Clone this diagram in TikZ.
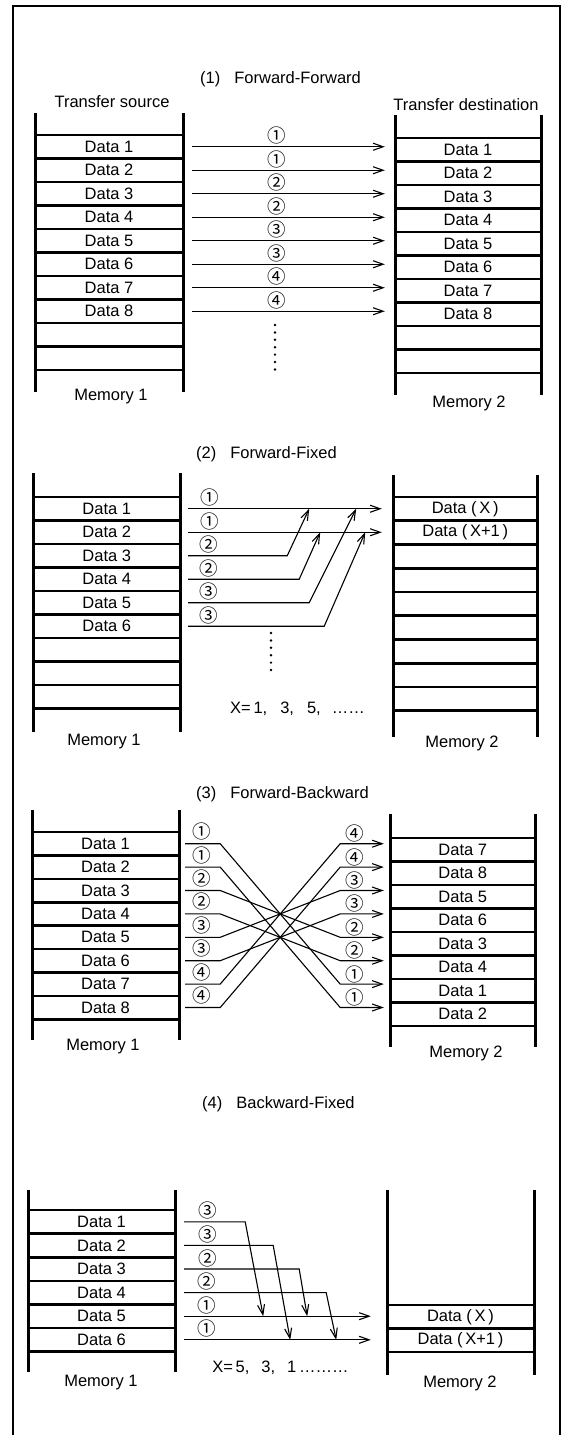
\documentclass[tikz,border=0pt]{standalone}
\usepackage{fontspec}
\setmainfont{Liberation Sans}
\newfontfamily\cjk{Noto Sans CJK JP}
\usetikzlibrary{arrows.meta,positioning,calc}

\begin{document}
\begin{tikzpicture}[
  x=1pt, y=-1pt,
  >={Straight Barb[length=10pt,width=7pt]},
  font=\fontsize{16.5pt}{19pt}\selectfont,
  frame/.style ={draw=black, line width=1.8pt},
  rail/.style  ={draw=black, line width=3pt},
  rung/.style  ={draw=black, line width=2.6pt},
  cell/.style  ={inner sep=0pt, minimum height=23pt, align=center},
  flow/.style  ={->, draw=black, line width=1.1pt},
  num/.style   ={inner sep=0pt, font=\cjk\fontsize{18.5pt}{18.5pt}\selectfont},
  title/.style ={inner sep=0pt, anchor=west},
  memo/.style  ={inner sep=0pt},
  dots/.style  ={draw=black, line width=2.7pt, line cap=round, dash pattern=on 0pt off 7.4pt},
]
\useasboundingbox (0,0) rectangle (568,1435);

% ---- the page frame, open at the foot as in the scan -----------------------------
\draw[frame] (13,1436) -- (13,6) -- (560,6) -- (560,1436);

% ============================================================ (1) FORWARD-FORWARD
\node[title] (ffhead) at (200,79) {(1)\hspace{14pt}Forward-Forward};
\node[memo] (ffsrc) at (112,102) {Transfer source};
\node[memo] (ffdst) at (466,105) {Transfer destination};

% memory 1: eleven rungs, eight filled rows
\draw[rail] (35,113) -- (35,392);
\draw[rail] (183,113) -- (183,392);
\foreach \k in {0,...,10} \draw[rung] (35,{135+23.5*\k}) -- (183,{135+23.5*\k});
\foreach \i in {1,...,8}
  \node[cell, minimum width=148pt] (ffs\i) at (109,{146.75+23.5*(\i-1)}) {Data \i};
\node[memo] (ffm1) at (111,397) {Memory 1};

% memory 2 sits three rows of scan lower than memory 1
\draw[rail] (395,115) -- (395,395);
\draw[rail] (541,115) -- (541,395);
\foreach \k in {0,...,10} \draw[rung] (395,{138+23.5*\k}) -- (541,{138+23.5*\k});
\foreach \i in {1,...,8}
  \node[cell, minimum width=146pt] (ffd\i) at (468,{149.75+23.5*(\i-1)}) {Data \i};
\node[memo] (ffm2) at (469,403) {Memory 2};

\foreach \i/\c in {1/①,2/①,3/②,4/②,5/③,6/③,7/④,8/④}
  \draw[flow, shorten <=9pt, shorten >=10pt] (ffs\i.east)
    -- node[num, pos=.44, yshift=11pt] {\c} (ffs\i.east -| ffd\i.west);
\draw[dots] (275,325) -- (275,370);

% ============================================================ (2) FORWARD-FIXED
\node[title] (fxhead) at (196,454) {(2)\hspace{14pt}Forward-Fixed};

\draw[rail] (33.5,473) -- (33.5,732);
\draw[rail] (180,473) -- (180,732);
\foreach \k in {0,...,9} \draw[rung] (33.5,{497+23.5*\k}) -- (180,{497+23.5*\k});
\foreach \i in {1,...,6}
  \node[cell, minimum width=146.5pt] (fxs\i) at (106.75,{508.75+23.5*(\i-1)}) {Data \i};
\node[memo] (fxm1) at (104,742) {Memory 1};

\draw[rail] (393,475) -- (393,737);
\draw[rail] (537.5,475) -- (537.5,737);
\foreach \k in {0,...,9} \draw[rung] (393,{497+23.75*\k}) -- (537.5,{497+23.75*\k});
\node[cell, minimum width=144.5pt] (fxd1) at (465.25,508.9) {Data\ (\,X\,)};
\node[cell, minimum width=144.5pt] (fxd2) at (465.25,532.6) {Data\ (\,X+1\,)};
\node[memo] (fxm2) at (462,743) {Memory 2};

% two straight arrows; the later rows join them from below
\draw[flow, shorten <=8pt, shorten >=11pt] (fxs1.east)
  -- node[num, pos=.14, yshift=11pt] {①} (fxs1.east -| fxd1.west);
\draw[flow, shorten <=8pt, shorten >=11pt] (fxs2.east)
  -- node[num, pos=.14, yshift=11pt] {①} (fxs2.east -| fxd2.west);
\draw[flow, shorten <=8pt] (fxs3.east) -- node[num, pos=.27, yshift=11pt] {②} ++(107,0) -- ([xshift=129pt]fxs1.east);
\draw[flow, shorten <=8pt] (fxs4.east) -- node[num, pos=.24, yshift=11pt] {②} ++(119,0) -- ([xshift=140pt]fxs2.east);
\draw[flow, shorten <=8pt] (fxs5.east) -- node[num, pos=.22, yshift=11pt] {③} ++(129,0) -- ([xshift=176pt]fxs1.east);
\draw[flow, shorten <=8pt] (fxs6.east) -- node[num, pos=.20, yshift=11pt] {③} ++(144,0) -- ([xshift=185pt]fxs2.east);
\draw[dots] (271,633) -- (271,677);
\node[memo] (fxnote) at (297.5,709) {X=\,1,\hspace{13pt}3,\hspace{13pt}5,\hspace{11pt}……};

% ============================================================ (3) FORWARD-BACKWARD
\node[title] (fbhead) at (196,794) {(3)\hspace{14pt}Forward-Backward};

\draw[rail] (32,810) -- (32,1040);
\draw[rail] (179,810) -- (179,1040);
\foreach \k in {0,...,8} \draw[rung] (32,{832+23.4*\k}) -- (179,{832+23.4*\k});
\foreach \i in {1,...,8}
  \node[cell, minimum width=147pt] (fbs\i) at (105.5,{843.7+23.4*(\i-1)}) {Data \i};
\node[memo] (fbm1) at (103,1047) {Memory 1};

% destination rows hold the pairs in reverse order: 7 8 5 6 3 4 1 2
\draw[rail] (390,814) -- (390,1047);
\draw[rail] (535.6,814) -- (535.6,1047);
\foreach \k in {0,...,8} \draw[rung] (390,{838+23.5*\k}) -- (535.6,{838+23.5*\k});
\foreach \d [count=\p] in {7,8,5,6,3,4,1,2}
  \node[cell, minimum width=145.6pt] (fbd\d) at (462.8,{849.75+23.5*(\p-1)}) {Data \d};
\node[memo] (fbm2) at (466,1053) {Memory 2};

\foreach \i/\k/\c in {1/7/①,2/8/①,3/5/②,4/6/②,5/3/③,6/4/③,7/1/④,8/2/④}
  \draw[flow, shorten <=6pt, shorten >=6pt] (fbs\i.east)
    -- node[num, pos=.56, yshift=12pt] {\c} ++(41,0)
    -- ([xshift=161pt]fbs\k.east)
    -- node[num, pos=.29, yshift=10pt] {\c} (fbs\k.east -| fbd\i.west);

% ============================================================ (4) BACKWARD-FIXED
\node[title] (bxhead) at (202,1104) {(4)\hspace{14pt}Backward-Fixed};

\draw[rail] (28,1190) -- (28,1372);
\draw[rail] (175,1190) -- (175,1372);
\foreach \k in {0,...,6} \draw[rung] (28,{1210+23.6*\k}) -- (175,{1210+23.6*\k});
\foreach \i in {1,...,6}
  \node[cell, minimum width=147pt] (bxs\i) at (101.5,{1221.8+23.6*(\i-1)}) {Data \i};
\node[memo] (bxm1) at (101,1383) {Memory 1};

\draw[rail] (387,1190) -- (387,1375);
\draw[rail] (534,1190) -- (534,1375);
\foreach \k in {0,...,2} \draw[rung] (387,{1305+23.5*\k}) -- (534,{1305+23.5*\k});
\node[cell, minimum width=147pt] (bxd1) at (460.5,1316.75) {Data\ (\,X\,)};
\node[cell, minimum width=147pt] (bxd2) at (460.5,1340.25) {Data\ (\,X+1\,)};
\node[memo] (bxm2) at (460,1383) {Memory 2};

\draw[flow, shorten <=9pt, shorten >=16pt] (bxs5.east)
  -- node[num, pos=.15, yshift=11pt] {①} (bxs5.east -| bxd1.west);
\draw[flow, shorten <=9pt, shorten >=16pt] (bxs6.east)
  -- node[num, pos=.15, yshift=11pt] {①} (bxs6.east -| bxd2.west);
\draw[flow, shorten <=9pt] (bxs1.east) -- node[num, pos=.46, yshift=11pt] {③} ++(70,0) -- ([xshift=88pt]bxs5.east);
\draw[flow, shorten <=9pt] (bxs2.east) -- node[num, pos=.33, yshift=11pt] {③} ++(98,0) -- ([xshift=115pt]bxs6.east);
\draw[flow, shorten <=9pt] (bxs3.east) -- node[num, pos=.26, yshift=11pt] {②} ++(124,0) -- ([xshift=132pt]bxs5.east);
\draw[flow, shorten <=9pt] (bxs4.east) -- node[num, pos=.21, yshift=11pt] {②} ++(151,0) -- ([xshift=161pt]bxs6.east);
\node[memo] (bxnote) at (280.5,1368) {X=\,5,\hspace{12pt}3,\hspace{12pt}1\,………};

\end{tikzpicture}
\end{document}
